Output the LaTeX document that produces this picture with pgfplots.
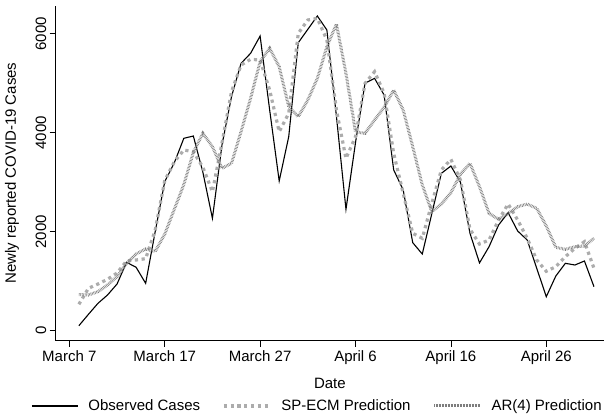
\documentclass[border=0pt]{standalone}
\usepackage{fontspec}
\setmainfont{Liberation Sans}
\usepackage{pgfplots}
\usepackage{pgfplotstable}
\pgfplotsset{compat=1.18}
\definecolor{spgray}{RGB}{172,172,172}
\definecolor{argray}{RGB}{125,125,125}

\pgfplotstableread{
d obs sp ar
1 101 533 730
2 330 856 721
3 553 943 788
4 721 1038 923
5 943 1165 1091
6 1381 1408 1361
7 1281 1428 1549
8 957 1455 1650
9 2000 2030 1600
10 3010 3030 1950
11 3390 3410 2450
12 3886 3650 2950
13 3933 3616 3600
14 3200 3300 3987
15 2270 2808 3717
16 3750 3785 3280
17 4727 4828 3381
18 5400 5367 4020
19 5603 5482 4694
20 5953 5468 5434
21 4460 4862 5704
22 3024 4020 5333
23 3920 4391 4525
24 5818 6007 4323
25 6088 6276 4660
26 6357 6310 5098
27 6074 5872 5737
28 4331 4460 6195
29 2452 3480 5199
30 3800 3919 4020
31 5000 4997 3987
32 5098 5232 4256
33 4761 4795 4513
34 3250 3583 4862
35 2842 2775 4458
36 1778 1967 3717
37 1549 1866 2943
38 2364 2573 2404
39 3179 3246 2559
40 3327 3462 2788
41 3000 3044 3160
42 1967 2050 3381
43 1370 1750 2909
44 1697 1832 2371
45 2135 2236 2250
46 2384 2559 2371
47 2014 2236 2505
48 1832 1866 2559
49 1260 1428 2472
50 687 1200 2115
51 1105 1293 1684
52 1361 1495 1644
53 1327 1664 1697
54 1408 1798 1711
55 889 1260 1866
}\data

\begin{document}
\begin{tikzpicture}[x=1pt,y=1pt]
\path[use as bounding box] (0,0) rectangle (611,416);
\begin{axis}[
  at={(55.7pt,75.3pt)}, anchor=south west,
  scale only axis, width=548.3pt, height=334.7pt,
  xmin=-1.43, xmax=56.05, ymin=-202, ymax=6559,
  axis x line=bottom, axis y line=left,
  axis line style={-, line width=0.7pt, black},
  every tick/.style={black, line width=0.7pt},
  tick align=outside, major tick length=6pt,
  xtick={0,10,20,30,40,50},
  xticklabels={March 7, March 17, March 27, April 6, April 16, April 26},
  ytick={0,2000,4000,6000},
  /pgf/number format/assume math mode=true,
  /pgf/number format/1000 sep={},
  tick label style={font=\fontsize{15}{18}\selectfont},
  yticklabel style={rotate=90, anchor=south},
  xlabel={Date}, ylabel={Newly reported COVID-19 Cases},
  label style={font=\fontsize{15}{18}\selectfont},
  xlabel style={at={(axis description cs:0.5,-0.1264)}, anchor=center},
  ylabel style={at={(axis description cs:-0.0797,0.501)}, anchor=center, rotate=0},
  legend columns=3,
  legend image code/.code={\draw[#1] (0pt,0pt) -- (46pt,0pt);},
  legend style={at={(axis description cs:0.4775,-0.195)}, anchor=center, draw=none,
    font=\fontsize{15}{18}\selectfont,
    /tikz/every odd column/.append style={column sep=8pt},
    /tikz/every even column/.append style={column sep=20pt}},
]
\addplot[black, line width=1.1pt] table[x=d, y=obs] {\data};
\addlegendentry{Observed Cases}
\addplot[spgray, line width=3.2pt, dash pattern=on 3.2pt off 3.6pt] table[x=d, y=sp] {\data};
\addlegendentry{SP-ECM Prediction}
\addplot[argray, line width=3.0pt, dash pattern=on 0.6pt off 0.9pt] table[x=d, y=ar] {\data};
\addlegendentry{AR(4) Prediction}
\end{axis}
\end{tikzpicture}
\end{document}
